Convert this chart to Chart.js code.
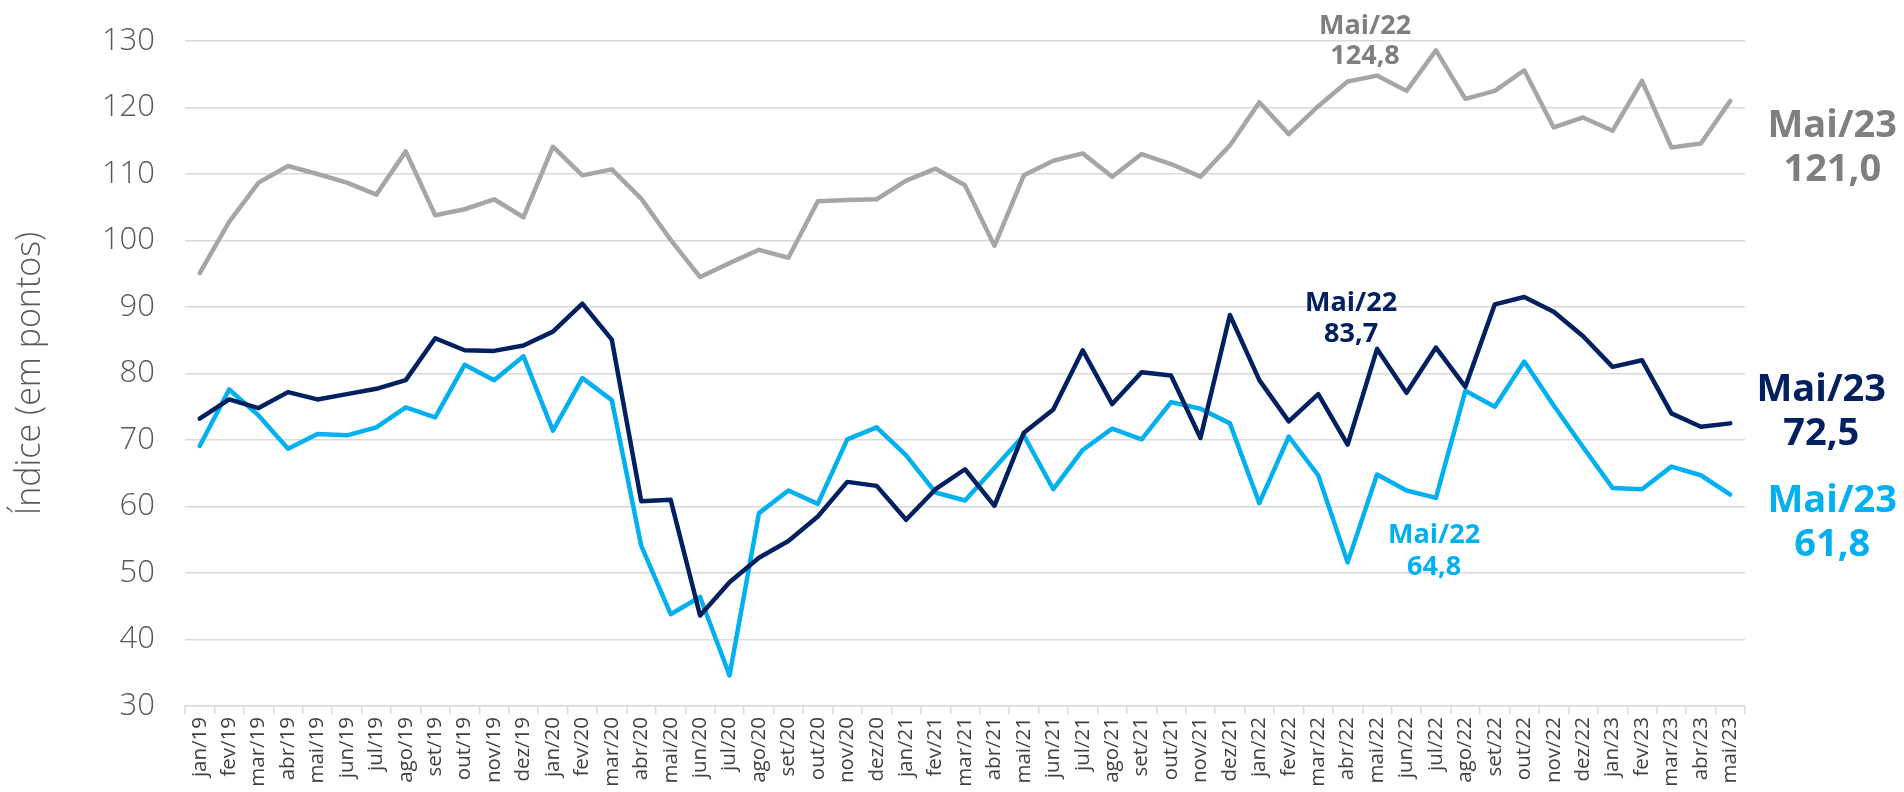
<!DOCTYPE html>
<html lang="pt-BR">
<head>
<meta charset="utf-8">
<title>Índice (em pontos)</title>
<script src="https://cdn.jsdelivr.net/npm/chart.js@4.4.1/dist/chart.umd.min.js"></script>
<style>
  html, body { margin: 0; padding: 0; background: #fff; }
  #wrap { width: 1904px; height: 792px; position: relative; }
</style>
</head>
<body>
<div id="wrap"><canvas id="indexChart"></canvas></div>
<script>
// categories: monthly, jan/19 .. mai/23
const categories = [
  'jan/19', 'fev/19', 'mar/19', 'abr/19', 'mai/19', 'jun/19', 'jul/19', 'ago/19', 'set/19', 'out/19', 'nov/19', 'dez/19',
  'jan/20', 'fev/20', 'mar/20', 'abr/20', 'mai/20', 'jun/20', 'jul/20', 'ago/20', 'set/20', 'out/20', 'nov/20', 'dez/20',
  'jan/21', 'fev/21', 'mar/21', 'abr/21', 'mai/21', 'jun/21', 'jul/21', 'ago/21', 'set/21', 'out/21', 'nov/21', 'dez/21',
  'jan/22', 'fev/22', 'mar/22', 'abr/22', 'mai/22', 'jun/22', 'jul/22', 'ago/22', 'set/22', 'out/22', 'nov/22', 'dez/22',
  'jan/23', 'fev/23', 'mar/23', 'abr/23', 'mai/23'
];

// gray series
const grayValues = [
  95.1, 102.8, 108.7, 111.2, 110.0, 108.7, 106.9, 113.4, 103.8, 104.7, 106.2, 103.5,
  114.1, 109.8, 110.7, 106.3, 100.1, 94.5, 96.6, 98.6, 97.4, 105.9, 106.1, 106.2,
  109.0, 110.8, 108.3, 99.2, 109.8, 112.0, 113.1, 109.6, 113.0, 111.5, 109.6, 114.3,
  120.8, 116.0, 120.2, 123.9, 124.8, 122.5, 128.6, 121.3, 122.5, 125.6, 117.0, 118.5,
  116.5, 124.0, 114.0, 114.6, 121.0
];

// dark blue series
const navyValues = [
  73.2, 76.1, 74.8, 77.2, 76.1, 76.9, 77.7, 79.0, 85.3, 83.5, 83.4, 84.2,
  86.3, 90.5, 85.1, 60.8, 61.0, 43.6, 48.6, 52.3, 54.8, 58.5, 63.7, 63.1,
  58.0, 62.6, 65.6, 60.1, 71.1, 74.6, 83.5, 75.4, 80.2, 79.7, 70.3, 88.8,
  79.0, 72.8, 76.9, 69.3, 83.7, 77.1, 83.9, 78.0, 90.4, 91.5, 89.3, 85.6,
  81.0, 82.0, 74.0, 72.0, 72.5
];

// light blue series
const lightValues = [
  69.1, 77.6, 73.7, 68.7, 70.9, 70.7, 71.9, 74.9, 73.4, 81.3, 79.0, 82.6,
  71.4, 79.3, 76.0, 54.1, 43.8, 46.4, 34.6, 59.0, 62.4, 60.4, 70.1, 71.9,
  67.7, 62.1, 60.9, 65.8, 70.7, 62.6, 68.5, 71.7, 70.1, 75.7, 74.7, 72.5,
  60.5, 70.5, 64.7, 51.6, 64.8, 62.4, 61.3, 77.4, 75.0, 81.8, 75.2, 68.9,
  62.8, 62.6, 66.0, 64.7, 61.8
];

// y axis
const yMin = 30;
const yMax = 130;
const yStep = 10;

const GRAY = '#a6a6a6';
const GRAY_TEXT = '#7f7f7f';
const NAVY = '#002060';
const LIGHT = '#00b0f0';
const GRID = '#d9d9d9';

Chart.defaults.font.family = '"Open Sans", sans-serif';

// callout texts next to points (month + value), offsets relative to the point
const callouts = [
  { dataset: 2, index: 40, color: GRAY_TEXT, size: 27, dx: -12, dy: [-42, -12] },
  { dataset: 0, index: 40, color: NAVY, size: 27, dx: -26, dy: [-38, -7] },
  { dataset: 1, index: 40, color: LIGHT, size: 27, dx: 57, dy: [68, 100] },
  { dataset: 2, index: 52, color: GRAY_TEXT, size: 38, dx: 102, dy: [36, 80] },
  { dataset: 0, index: 52, color: NAVY, size: 38, dx: 91, dy: [-22, 22] },
  { dataset: 1, index: 52, color: LIGHT, size: 38, dx: 102, dy: [17, 61] }
];

const calloutPlugin = {
  id: 'callouts',
  afterDatasetsDraw(chart) {
    const { ctx } = chart;
    const x = chart.scales.x;
    const y = chart.scales.y;
    ctx.save();
    ctx.textAlign = 'center';
    ctx.textBaseline = 'alphabetic';
    callouts.forEach(c => {
      const value = chart.data.datasets[c.dataset].data[c.index];
      const px = x.getPixelForValue(c.index);
      const py = y.getPixelForValue(value);
      const label = categories[c.index];
      ctx.fillStyle = c.color;
      ctx.font = `bold ${c.size}px "Open Sans", sans-serif`;
      ctx.fillText(label.charAt(0).toUpperCase() + label.slice(1), px + c.dx, py + c.dy[0]);
      ctx.fillText(value.toFixed(1).replace('.', ','), px + c.dx, py + c.dy[1]);
    });
    ctx.restore();
  }
};

function lineDataset(label, data, color) {
  return {
    label: label,
    data: data,
    borderColor: color,
    backgroundColor: color,
    borderWidth: 4.5,
    pointRadius: 0,
    pointHoverRadius: 0,
    tension: 0,
    borderCapStyle: 'round',
    borderJoinStyle: 'round',
    fill: false
  };
}

const ctx = document.getElementById('indexChart').getContext('2d');
new Chart(ctx, {
  type: 'line',
  data: {
    labels: categories,
    datasets: [
      lineDataset('Série azul escuro', navyValues, NAVY),
      lineDataset('Série azul claro', lightValues, LIGHT),
      lineDataset('Série cinza', grayValues, GRAY)
    ]
  },
  options: {
    responsive: true,
    maintainAspectRatio: false,
    animation: false,
    layout: { padding: { top: 41, right: 159, bottom: 0, left: 0 } },
    plugins: {
      legend: { display: false },
      tooltip: { enabled: false }
    },
    scales: {
      x: {
        offset: true,
        grid: {
          offset: true,
          drawOnChartArea: false,
          drawTicks: true,
          tickLength: 8,
          color: GRID,
          lineWidth: 1.5
        },
        border: { display: true, color: GRID, width: 1.5 },
        ticks: {
          autoSkip: false,
          minRotation: 90,
          maxRotation: 90,
          padding: 3,
          color: '#404040',
          font: { size: 20.5 }
        },
        afterFit(scale) { scale.height = 86; }
      },
      y: {
        min: yMin,
        max: yMax,
        // invisible tick marks give the gap between labels and plot
        grid: { color: GRID, lineWidth: 1.5, drawTicks: true, tickLength: 27, tickColor: 'rgba(0,0,0,0)' },
        border: { display: false },
        ticks: {
          stepSize: yStep,
          padding: 3,
          color: '#595959',
          font: { size: 31, weight: '300' }
        },
        title: {
          display: true,
          text: 'Índice (em pontos)',
          color: '#595959',
          font: { size: 34, weight: '300' },
          padding: { top: 10, bottom: 0 }
        },
        afterFit(scale) { scale.width = 185; }
      }
    }
  },
  plugins: [calloutPlugin]
});
</script>
</body>
</html>
